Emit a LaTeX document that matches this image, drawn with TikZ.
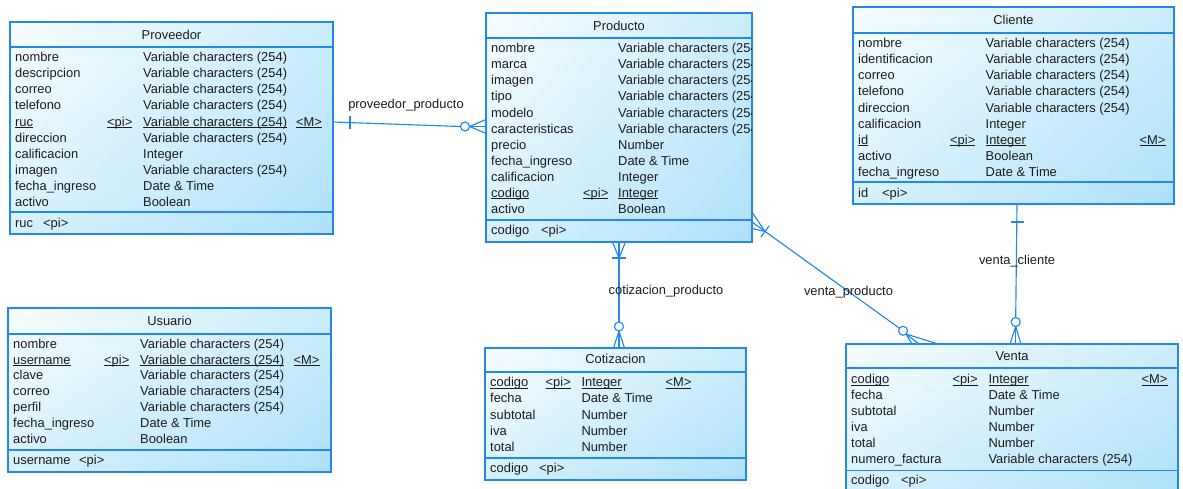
\documentclass[tikz,border=0pt]{standalone}
\usepackage{fontspec}
\setmainfont{Liberation Sans}
\usetikzlibrary{shadings,calc}

\definecolor{erblue}{HTML}{2288F0}
\definecolor{erpale}{HTML}{F7FDFF}
\definecolor{ermidA}{HTML}{D6F1FD}
\definecolor{ermidB}{HTML}{CBEDFB}
\definecolor{erdeep}{HTML}{AFE1F9}
\definecolor{ertext}{HTML}{1C1C1C}

\tikzset{
  entity/.style={rectangle, draw=erblue, line width=1.3pt, inner sep=0pt, outer sep=0pt,
    anchor=north west, upper left=erpale, upper right=ermidB, lower left=ermidA, lower right=erdeep},
  field/.style={anchor=base west, inner sep=0pt, text=ertext, font=\fontsize{12.9}{14}\selectfont},
  etitle/.style={anchor=base, inner sep=0pt, text=ertext, font=\fontsize{12.9}{14}\selectfont},
  rlabel/.style={anchor=base, inner sep=0pt, text=ertext, font=\fontsize{12.9}{14}\selectfont},
  esep/.style={draw=erblue, line width=1.3pt},
  rel/.style={draw=erblue, line width=1.15pt},
}

% key underline sitting close to the baseline
\newcommand\erul[1]{\setbox0\hbox{#1}\leavevmode\rlap{\rule[-1.7pt]{\wd0}{0.75pt}}\box0}

% one attribute row: index, name, identifier mark, data type, mandatory mark
\newcommand\erfield[5]{%
  \pgfmathsetmacro\erfy{\erbase+(#1-1)*\erstep}%
  \node[field] (\ername-a#1) at (\erxa,\erfy) {#2};%
  \node[field] (\ername-t#1) at (\erxt,\erfy) {#4};%
  \if\relax\detokenize{#3}\relax\else\node[field] (\ername-p#1) at (\erxp,\erfy) {#3};\fi
  \if\relax\detokenize{#5}\relax\else\node[field] (\ername-m#1) at (\erxm,\erfy) {#5};\fi
}
\newcommand\vc{Variable characters (254)}

\begin{document}
\begin{tikzpicture}[x=1pt, y=-1pt]
\useasboundingbox (0,0) rectangle (1183,488);

% ---------------- Proveedor
\node[entity, minimum width=323, minimum height=212] (prov) at (10,22) {};
\draw[esep] (prov.west |- 0,47) -- (prov.east |- 0,47);
\draw[esep] (prov.west |- 0,212) -- (prov.east |- 0,212);
\node[etitle] (prov-title) at (171.5,39) {Proveedor};
\def\ername{prov}\def\erbase{61.6}\def\erstep{16.1}
\def\erxa{15}\def\erxp{107}\def\erxt{143}\def\erxm{296}
\erfield{1}{nombre}{}{\vc}{}
\erfield{2}{descripcion}{}{\vc}{}
\erfield{3}{correo}{}{\vc}{}
\erfield{4}{telefono}{}{\vc}{}
\erfield{5}{\erul{ruc}}{\erul{<pi>}}{\erul{\vc}}{\erul{<M>}}
\erfield{6}{direccion}{}{\vc}{}
\erfield{7}{calificacion}{}{Integer}{}
\erfield{8}{imagen}{}{\vc}{}
\erfield{9}{fecha\_ingreso}{}{Date \& Time}{}
\erfield{10}{activo}{}{Boolean}{}
\node[field] (prov-key) at (15,227.6) {ruc};
\node[field] (prov-keypi) at (43,227.6) {<pi>};

% ---------------- Producto
\node[entity, minimum width=266, minimum height=229] (prod) at (486,13) {};
\draw[esep] (prod.west |- 0,38) -- (prod.east |- 0,38);
\draw[esep] (prod.west |- 0,220) -- (prod.east |- 0,220);
\node[etitle] (prod-title) at (619,30.3) {Producto};
\begin{scope}
\clip (486,13) rectangle (751.3,242);
\def\ername{prod}\def\erbase{52.6}\def\erstep{16.1}
\def\erxa{491}\def\erxp{583}\def\erxt{618}\def\erxm{0}
\erfield{1}{nombre}{}{\vc}{}
\erfield{2}{marca}{}{\vc}{}
\erfield{3}{imagen}{}{\vc}{}
\erfield{4}{tipo}{}{\vc}{}
\erfield{5}{modelo}{}{\vc}{}
\erfield{6}{caracteristicas}{}{\vc}{}
\erfield{7}{precio}{}{Number}{}
\erfield{8}{fecha\_ingreso}{}{Date \& Time}{}
\erfield{9}{calificacion}{}{Integer}{}
\erfield{10}{\erul{codigo}}{\erul{<pi>}}{\erul{Integer}}{}
\erfield{11}{activo}{}{Boolean}{}
\end{scope}
\node[field] (prod-key) at (491,234.6) {codigo};
\node[field] (prod-keypi) at (541,234.6) {<pi>};

% ---------------- Cliente
\node[entity, minimum width=321, minimum height=197] (cli) at (853,7) {};
\draw[esep] (cli.west |- 0,33) -- (cli.east |- 0,33);
\draw[esep] (cli.west |- 0,182) -- (cli.east |- 0,182);
\node[etitle] (cli-title) at (1013.5,24.3) {Cliente};
\def\ername{cli}\def\erbase{47.6}\def\erstep{16.1}
\def\erxa{858}\def\erxp{950}\def\erxt{985.5}\def\erxm{1139.5}
\erfield{1}{nombre}{}{\vc}{}
\erfield{2}{identificacion}{}{\vc}{}
\erfield{3}{correo}{}{\vc}{}
\erfield{4}{telefono}{}{\vc}{}
\erfield{5}{direccion}{}{\vc}{}
\erfield{6}{calificacion}{}{Integer}{}
\erfield{7}{\erul{id}}{\erul{<pi>}}{\erul{Integer}}{\erul{<M>}}
\erfield{8}{activo}{}{Boolean}{}
\erfield{9}{fecha\_ingreso}{}{Date \& Time}{}
\node[field] (cli-key) at (858,197.3) {id};
\node[field] (cli-keypi) at (882,197.3) {<pi>};

% ---------------- Usuario
\node[entity, minimum width=323, minimum height=164] (usr) at (8,308) {};
\draw[esep] (usr.west |- 0,334) -- (usr.east |- 0,334);
\draw[esep] (usr.west |- 0,450) -- (usr.east |- 0,450);
\node[etitle] (usr-title) at (169.5,325.3) {Usuario};
\def\ername{usr}\def\erbase{348.3}\def\erstep{15.8}
\def\erxa{13}\def\erxp{104}\def\erxt{140}\def\erxm{293.5}
\erfield{1}{nombre}{}{\vc}{}
\erfield{2}{\erul{username}}{\erul{<pi>}}{\erul{\vc}}{\erul{<M>}}
\erfield{3}{clave}{}{\vc}{}
\erfield{4}{correo}{}{\vc}{}
\erfield{5}{perfil}{}{\vc}{}
\erfield{6}{fecha\_ingreso}{}{Date \& Time}{}
\erfield{7}{activo}{}{Boolean}{}
\node[field] (usr-key) at (13,464.6) {username};
\node[field] (usr-keypi) at (79,464.6) {<pi>};

% ---------------- Cotizacion
\node[entity, minimum width=261, minimum height=132] (cot) at (485,348) {};
\draw[esep] (cot.west |- 0,372) -- (cot.east |- 0,372);
\draw[esep] (cot.west |- 0,458) -- (cot.east |- 0,458);
\node[etitle] (cot-title) at (615.5,363.9) {Cotizacion};
\def\ername{cot}\def\erbase{386.6}\def\erstep{16.2}
\def\erxa{490}\def\erxp{545.5}\def\erxt{581.3}\def\erxm{665.3}
\erfield{1}{\erul{codigo}}{\erul{<pi>}}{\erul{Integer}}{\erul{<M>}}
\erfield{2}{fecha}{}{Date \& Time}{}
\erfield{3}{subtotal}{}{Number}{}
\erfield{4}{iva}{}{Number}{}
\erfield{5}{total}{}{Number}{}
\node[field] (cot-key) at (490,472.6) {codigo};
\node[field] (cot-keypi) at (539,472.6) {<pi>};

% ---------------- Venta
\node[entity, minimum width=332, minimum height=148] (ven) at (846,344) {};
\draw[esep] (ven.west |- 0,368) -- (ven.east |- 0,368);
\draw[esep] (ven.west |- 0,470.7) -- (ven.east |- 0,470.7);
\node[etitle] (ven-title) at (1012,360.3) {Venta};
\def\ername{ven}\def\erbase{383.6}\def\erstep{15.9}
\def\erxa{851}\def\erxp{952.3}\def\erxt{988.3}\def\erxm{1141.5}
\erfield{1}{\erul{codigo}}{\erul{<pi>}}{\erul{Integer}}{\erul{<M>}}
\erfield{2}{fecha}{}{Date \& Time}{}
\erfield{3}{subtotal}{}{Number}{}
\erfield{4}{iva}{}{Number}{}
\erfield{5}{total}{}{Number}{}
\erfield{6}{numero\_factura}{}{\vc}{}
\node[field] (ven-key) at (851,484.6) {codigo};
\node[field] (ven-keypi) at (901,484.6) {<pi>};

% ================= relationships
% proveedor_producto: one Proveedor, zero or many Producto
\coordinate (pp-c) at (465,126.5);
\draw[rel] (prov.east |- 0,122) -- ($(pp-c)+(-4.5,0)$);
\draw[rel] (pp-c) circle[radius=4.5];
\draw[rel] (350,115.5) -- (350,129);
\draw[rel] ($(pp-c)+(4.5,0)$) -- (prod.west |- 0,119.5);
\draw[rel] ($(pp-c)+(4.5,0)$) -- (prod.west |- 0,126.5);
\draw[rel] ($(pp-c)+(4.5,0)$) -- (prod.west |- 0,133.5);
\node[rlabel] (pp-label) at (406,108.5) {proveedor\_producto};

% cotizacion_producto: one or many Producto, zero or many Cotizacion
\coordinate (cp-apex) at (619,258);
\coordinate (cp-c) at (619,326.5);
\draw[rel] (prod.south -| 619,0) -- ($(cp-c)+(0,-4.5)$);
\draw[rel] (cp-apex) -- (prod.south -| 612.5,0);
\draw[rel] (cp-apex) -- (prod.south -| 625.5,0);
\draw[rel] (612,258) -- (626,258);
\draw[rel] (cp-c) circle[radius=4.5];
\draw[rel] ($(cp-c)+(0,4.5)$) -- (cot.north -| 613.5,0);
\draw[rel] ($(cp-c)+(0,4.5)$) -- (cot.north -| 619,0);
\draw[rel] ($(cp-c)+(0,4.5)$) -- (cot.north -| 624.5,0);
\node[rlabel] (cp-label) at (666,294.6) {cotizacion\_producto};

% venta_producto: one or many Producto, zero or many Venta
\coordinate (vp-apex) at (765,231.5);
\coordinate (vp-c) at (903,330.8);
\draw[rel] (prod.east |- 0,222) -- ($(vp-c)!4.5pt!(vp-apex)$);
\draw[rel] (vp-apex) -- (prod.east |- 0,212);
\draw[rel] (vp-apex) -- (prod.east |- 0,228.5);
\draw[rel] (769.2,225.8) -- (760.8,237.2);
\draw[rel] (vp-c) circle[radius=4.5];
\coordinate (vp-foot) at (906,334);
\draw[rel] (vp-foot) -- (ven.north -| 912,0);
\draw[rel] (vp-foot) -- (ven.north -| 919,0);
\draw[rel] (vp-foot) -- (ven.north -| 938,0);
\node[rlabel] (vp-label) at (848.5,295.3) {venta\_producto};

% venta_cliente: one Cliente, zero or many Venta
\coordinate (vc-c) at (1015.7,322);
\draw[rel] (cli.south -| 1017,0) -- ($(vc-c)+(0,-4.5)$);
\draw[rel] (1011,222) -- (1024,222);
\draw[rel] (vc-c) circle[radius=4.5];
\draw[rel] ($(vc-c)+(0,4.5)$) -- (ven.north -| 1010,0);
\draw[rel] ($(vc-c)+(0,4.5)$) -- (ven.north -| 1015.7,0);
\draw[rel] ($(vc-c)+(0,4.5)$) -- (ven.north -| 1021,0);
\node[rlabel] (vc-label) at (1017,264.6) {venta\_cliente};

\end{tikzpicture}
\end{document}
